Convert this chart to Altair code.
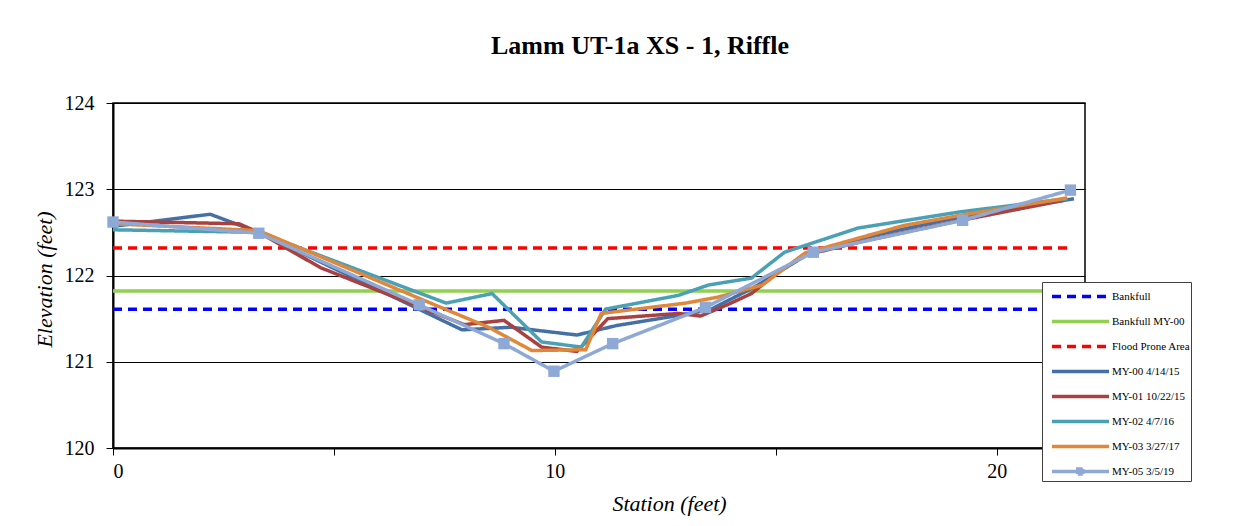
import altair as alt
import pandas as pd

SERIES = ["Bankfull", "Bankfull MY-00", "Flood Prone Area", "MY-00 4/14/15",
          "MY-01 10/22/15", "MY-02 4/7/16", "MY-03 3/27/17", "MY-05 3/5/19"]
COLORS = ["#0000FF", "#92D050", "#FF0000", "#4470A5", "#A8413F", "#4AA0B5", "#E0873A", "#8EA9D5"]
DASHES = [[9, 6], [1, 0], [9, 6], [1, 0], [1, 0], [1, 0], [1, 0], [1, 0]]

ref_x = [0, 21.7]
bankfull_y = [121.61, 121.61]
bankfull00_y = [121.82, 121.82]
flood_y = [122.32, 122.32]

my00_x = [0, 2.2, 3.3, 7.9, 9.0, 10.5, 11.4, 12.6, 13.5, 14.5, 15.8, 17.0, 19.0, 21.75]
my00_y = [122.57, 122.71, 122.50, 121.37, 121.40, 121.31, 121.42, 121.52, 121.60, 121.86, 122.27, 122.44, 122.66, 122.89]

my01_x = [0, 2.85, 3.3, 4.7, 7.95, 8.85, 9.7, 10.5, 11.2, 12.8, 13.3, 13.9, 14.45, 15.1, 15.7, 17.0, 19.0, 21.5]
my01_y = [122.63, 122.60, 122.50, 122.09, 121.43, 121.48, 121.17, 121.12, 121.50, 121.56, 121.53, 121.66, 121.79, 122.06, 122.24, 122.40, 122.62, 122.87]

my02_x = [0, 3.3, 7.54, 8.58, 9.7, 10.6, 11.15, 12.8, 13.48, 14.45, 15.2, 16.86, 19.2, 21.6]
my02_y = [122.53, 122.50, 121.68, 121.79, 121.23, 121.17, 121.61, 121.77, 121.89, 121.97, 122.27, 122.55, 122.74, 122.89]

my03_x = [0, 3.3, 7.0, 8.5, 9.48, 10.7, 11.05, 12.96, 13.7, 14.7, 15.66, 17.9, 19.2, 21.6]
my03_y = [122.60, 122.52, 121.72, 121.40, 121.13, 121.14, 121.56, 121.68, 121.75, 121.89, 122.26, 122.58, 122.70, 122.90]

my05_x = [0, 3.30, 6.93, 8.85, 9.98, 11.31, 13.41, 15.85, 19.23, 21.67]
my05_y = [122.62, 122.49, 121.66, 121.21, 120.89, 121.21, 121.63, 122.27, 122.64, 122.99]

pairs = [(ref_x, bankfull_y), (ref_x, bankfull00_y), (ref_x, flood_y),
         (my00_x, my00_y), (my01_x, my01_y), (my02_x, my02_y), (my03_x, my03_y), (my05_x, my05_y)]
rows = []
for name, (xs, ys) in zip(SERIES, pairs):
    for i, (xv, yv) in enumerate(zip(xs, ys)):
        rows.append({"series": name, "station": xv, "elev": yv, "i": i})
df = pd.DataFrame(rows)

FONT = "Liberation Serif"
LINE_PATH = "M-0.36,0H4.2"
SQ_PATH = "M-0.36,0H4.2M1.7,-0.2H2.1V0.2H1.7Z"
SHAPES = [LINE_PATH] * 7 + [SQ_PATH]

LEG = dict(title=None, orient="none", legendX=929, legendY=179,
           symbolSize=625, symbolStrokeWidth=3.5, symbolType=LINE_PATH, symbolOpacity=1,
           labelFont=FONT, labelFontSize=11, labelColor="#000",
           labelOffset=41, rowPadding=3, padding=0,
           fillColor="white", strokeColor="#404040", labelLimit=200)

xenc = alt.X("station:Q", scale=alt.Scale(domain=[0, 22], nice=False),
             axis=alt.Axis(values=[0, 5, 10, 15, 20], grid=False, title="Station (feet)",
                           labelExpr="datum.value % 10 == 0 ? datum.label : ''",
                           labelPadding=6,
                           titleX=556, titleY=62, titleBaseline="alphabetic",
                           titleFontStyle="italic", titleFontWeight="normal"))
yenc = alt.Y("elev:Q", scale=alt.Scale(domain=[120, 124], nice=False, zero=False),
             axis=alt.Axis(values=[120, 121, 122, 123, 124], grid=True, title="Elevation (feet)",
                           labelPadding=12,
                           titleFontStyle="italic", titleFontWeight="normal",
                           titleX=-69, titleY=176, titleAngle=270, titleAlign="center",
                           titleBaseline="middle"))
color = alt.Color("series:N", scale=alt.Scale(domain=SERIES, range=COLORS), legend=alt.Legend(**LEG))
dash = alt.StrokeDash("series:N", scale=alt.Scale(domain=SERIES, range=DASHES), legend=alt.Legend(**LEG))

layers = []
for name in SERIES:
    layers.append(
        alt.Chart(df).transform_filter(alt.datum.series == name)
        .mark_line(strokeWidth=3.5)
        .encode(x=xenc, y=yenc, color=color, strokeDash=dash, order="i:Q")
    )
points = (
    alt.Chart(df).transform_filter(alt.datum.series == SERIES[-1])
    .mark_point(shape="square", filled=True, size=130, opacity=1)
    .encode(x=xenc, y=yenc,
            color=alt.Color("series:N", scale=alt.Scale(domain=SERIES, range=COLORS), legend=None))
)
layers.append(points)
legend_shape = (
    alt.Chart(df).transform_filter("false")
    .mark_point(opacity=1)
    .encode(x=xenc, y=yenc,
            shape=alt.Shape("series:N", scale=alt.Scale(domain=SERIES, range=SHAPES), legend=alt.Legend(**LEG)))
)
layers.append(legend_shape)

chart = alt.layer(*layers).properties(
    width=972, height=345,
    autosize=alt.AutoSizeParams(type="none"),
    padding={"left": 105, "top": 95, "right": 150, "bottom": 70},
    title=alt.TitleParams("Lamm UT-1a XS - 1, Riffle", font=FONT, fontSize=26, fontWeight="bold",
                          color="#000", anchor="middle", dx=41, offset=34)
).configure_view(stroke="#000", strokeWidth=1.5).configure_axis(
    labelFont=FONT, titleFont=FONT, labelFontSize=20, titleFontSize=22, labelColor="#000",
    titleColor="#000", domainColor="#000", domainWidth=2, tickColor="#000", tickSize=7,
    gridColor="#000", gridOpacity=1, gridWidth=1
)

chart.save("out.html", embed_options={"renderer": "svg", "actions": False})
